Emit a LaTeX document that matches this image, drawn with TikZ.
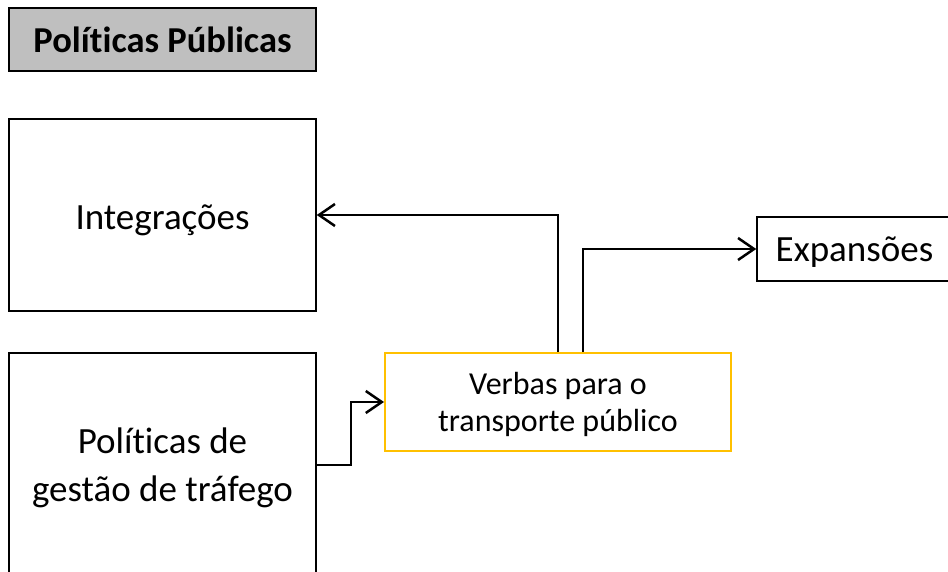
\documentclass[tikz,border=0pt]{standalone}
\usepackage{fontspec}
\setmainfont{Carlito}[Ligatures=NoCommon]
\usetikzlibrary{arrows.meta}
\definecolor{titlegray}{HTML}{BFBFBF}
\definecolor{boxyellow}{HTML}{FFC000}
\begin{document}
\begin{tikzpicture}[x=1pt,y=-1pt,
  plainbox/.style={draw=black,line width=1.5pt,minimum width=307pt,inner sep=0pt,align=center,font=\fontsize{37}{48}\selectfont},
  titlebox/.style={plainbox,fill=titlegray,font=\fontsize{36.5}{40}\bfseries\selectfont},
  verbbox/.style={draw=boxyellow,line width=2pt,minimum width=346pt,minimum height=98pt,inner sep=0pt,align=center,font=\fontsize{32}{37}\selectfont},
  arr/.style={draw=black,line width=2.5pt,-{Straight Barb[length=16pt,width=22pt,line width=2.5pt]}}]
\useasboundingbox (0,0) rectangle (948,572);
\clip (0,0) rectangle (948,572);
\node[titlebox,minimum height=63pt] (title) at (162.5,39.5) {Políticas Públicas};
\node[plainbox,minimum height=192pt] (integ) at (162.5,215) {\raisebox{-5pt}[\height][\depth]{Integrações}};
\node[plainbox,minimum height=224pt] (pol) at (162.5,465) {\raisebox{-3pt}[\height][\depth]{Políticas de}\\\raisebox{-3pt}[\height][\depth]{gestão de tráfego}};
\node[verbbox] (verbas) at (558,402) {\raisebox{-2pt}[\height][\depth]{Verbas para o}\\\raisebox{-2pt}[\height][\depth]{transporte público}};
\node[plainbox,minimum width=195pt,minimum height=64pt] (exp) at (854.5,249) {\raisebox{-3pt}[\height][\depth]{Expansões}};
\draw[arr] (verbas.north) |- (integ.east);
\draw[arr] ([xshift=25pt]verbas.north) |- (exp.west);
\draw[arr] (pol.east) -- ++(34,0) |- (verbas.west);
\end{tikzpicture}
\end{document}
